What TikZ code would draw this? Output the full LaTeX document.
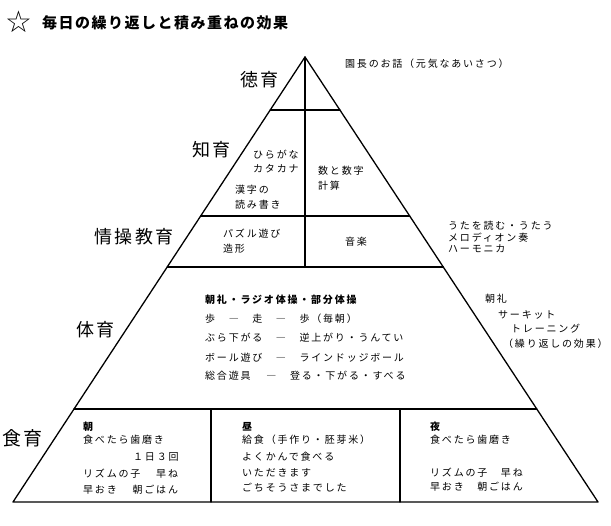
\documentclass[tikz,border=0pt]{standalone}
\usepackage{fontspec}
\setmainfont{Noto Sans CJK JP}
\newfontfamily\jpsmall[LetterSpace=18]{Noto Sans CJK JP}
\newfontfamily\jpbig[LetterSpace=14]{Noto Sans CJK JP}
\newfontfamily\jptitle[LetterSpace=10]{Noto Sans CJK JP}
\newfontfamily\symfont{DejaVu Sans}
\usetikzlibrary{calc}
\tikzset{
  every picture/.style={line join=round, line cap=round},
  edge/.style={line width=1.3pt},
  lvl/.style={font=\jpbig\fontsize{18}{18}\selectfont, anchor=west, inner sep=0pt},
  txt/.style={font=\jpsmall\fontsize{10}{10}\selectfont, anchor=west, inner sep=0pt},
  head/.style={txt, font=\jpsmall\bfseries\fontsize{10}{10}\selectfont},
  ttl/.style={font=\jptitle\bfseries\fontsize{15}{15}\selectfont, anchor=west, inner sep=0pt},
}

\begin{document}
\begin{tikzpicture}[x=1pt,y=-1pt]
\fill[white] (0,0) rectangle (611,526);
\coordinate (top) at (305,57);
\coordinate (bl) at (13,502);
\coordinate (br) at (598,502);
% pyramid
\draw[edge] (top) -- (bl) -- (br) -- cycle;
\foreach \y in {110,216,267,409}{\draw[edge] ($(top)!{(\y-57)/445}!(bl)$) -- ($(top)!{(\y-57)/445}!(br)$);}
\draw[edge] (top) -- (305,267);
\draw[edge] (211,409) -- (211,502);
\draw[edge] (400,409) -- (400,502);
% title
\node[inner sep=0pt, font=\symfont\fontsize{30}{30}\selectfont] (star) at (18.5,22) {☆};
\node[ttl] (title) at (42,23) {毎日の繰り返しと積み重ねの効果};
% levels
\node[lvl] (toku) at (240,80) {徳育};
\node[lvl] (chi) at (192,150) {知育};
\node[lvl] (jou) at (94,237) {情操教育};
\node[lvl] (tai) at (76,330) {体育};
\node[lvl, font=\jpbig\fontsize{19}{19}\selectfont] (shoku) at (2,438) {食育};
% right notes
\node[txt] (enchou) at (345,64) {園長のお話（元気なあいさつ）};
\node[txt] (uta1) at (448,226) {うたを読む・うたう};
\node[txt] (uta2) at (448,238) {メロディオン奏};
\node[txt] (uta3) at (448,249) {ハーモニカ};
\node[txt] (asa1) at (485,299) {朝礼};
\node[txt] (asa2) at (498,315) {サーキット};
\node[txt] (asa3) at (511,329) {トレーニング};
\node[txt] (asa4) at (503,344) {（繰り返しの効果）};
% chiiku
\node[txt] (hira) at (253,155) {ひらがな};
\node[txt] (kata) at (253,169) {カタカナ};
\node[txt] (kan1) at (235,190) {漢字の};
\node[txt] (kan2) at (235,205) {読み書き};
\node[txt] (suu1) at (318,171) {数と数字};
\node[txt] (suu2) at (318,186) {計算};
% jousou
\node[txt] (puz1) at (223,234) {パズル遊び};
\node[txt] (puz2) at (223,249) {造形};
\node[txt] (ongaku) at (345,242) {音楽};
% taiiku
\node[head] (tai1) at (205,300) {朝礼・ラジオ体操・部分体操};
\node[txt] (tai2) at (205,319) {歩　―　走　―　歩（毎朝）};
\node[txt] (tai3) at (205,338) {ぶら下がる　―　逆上がり・うんてい};
\node[txt] (tai4) at (205,358) {ボール遊び　―　ラインドッジボール};
\node[txt] (tai5) at (205,376) {総合遊具　 ―　登る・下がる・すべる};
% shokuiku
\node[head] (m0) at (83,427) {朝};
\node[txt] (m1) at (83,440) {食べたら歯磨き};
\node[txt] (m2) at (133,457) {１日３回};
\node[txt] (m3) at (83,474) {リズムの子　 早ね};
\node[txt] (m4) at (83,490) {早おき　 朝ごはん};
\node[head] (h0) at (242,427) {昼};
\node[txt] (h1) at (242,440) {給食（手作り・胚芽米）};
\node[txt] (h2) at (242,457) {よくかんで食べる};
\node[txt] (h3) at (242,473) {いただきます};
\node[txt] (h4) at (242,488) {ごちそうさまでした};
\node[head] (n0) at (430,427) {夜};
\node[txt] (n1) at (430,440) {食べたら歯磨き};
\node[txt] (n2) at (430,473) {リズムの子　早ね};
\node[txt] (n3) at (430,487) {早おき　朝ごはん};
\end{tikzpicture}
\end{document}
